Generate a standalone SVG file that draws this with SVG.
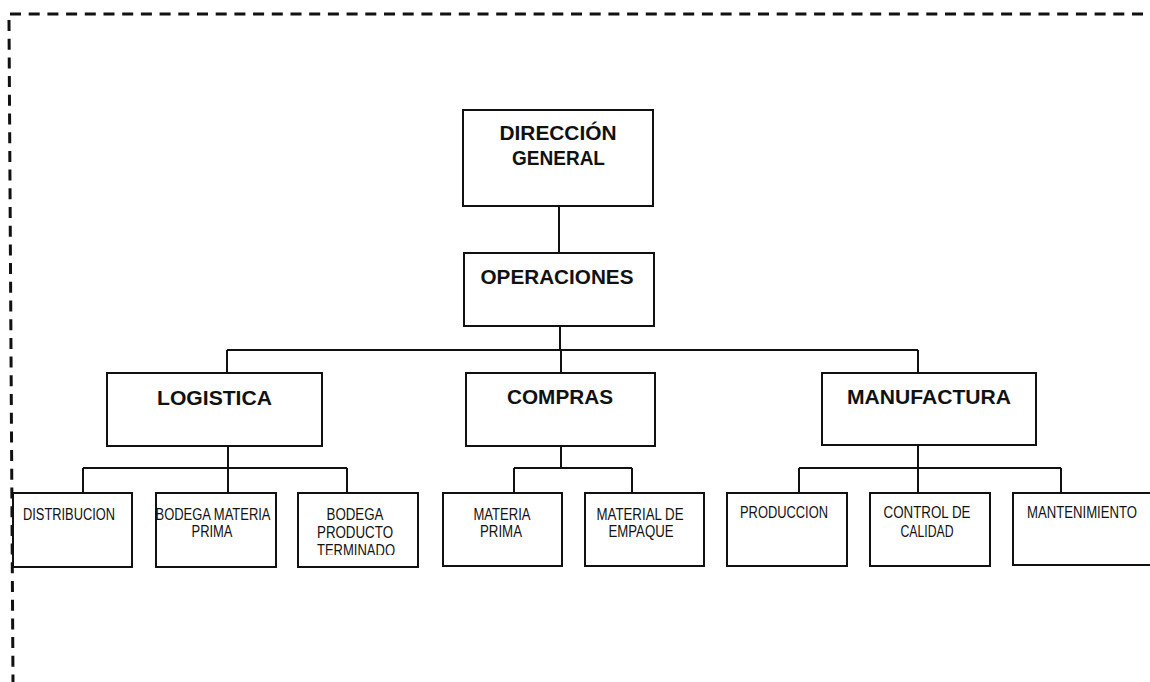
<svg xmlns="http://www.w3.org/2000/svg" width="1150" height="682" viewBox="0 0 1150 682">
<style>
.box{fill:#fff;stroke:#111;stroke-width:2}
.conn line{stroke:#111;stroke-width:2;fill:none}
.border{stroke:#111;stroke-width:3;fill:none;stroke-dasharray:11 7.7}
.b{font-family:"Liberation Sans",Arial,sans-serif;font-weight:bold;font-size:21px;fill:#111;text-anchor:middle}
.s{font-family:"Liberation Sans",Arial,sans-serif;font-size:16px;fill:#111;text-anchor:middle}
</style>
<defs>
<clipPath id="cutPT"><rect x="290" y="480" width="140" height="75"/></clipPath>
</defs>
<rect width="1150" height="682" fill="#fff"/>
<g id="border">
<line class="border" x1="10" y1="14" x2="1150" y2="14"/>
<line class="border" x1="9" y1="20" x2="13" y2="682"/>
</g>
<g id="connectors" class="conn">
<line x1="559" y1="206" x2="559" y2="253"/>
<line x1="560" y1="326" x2="560" y2="350"/>
<line x1="227" y1="350" x2="918" y2="350"/>
<line x1="227" y1="350" x2="227" y2="373"/>
<line x1="561" y1="350" x2="561" y2="373"/>
<line x1="918" y1="350" x2="918" y2="373"/>
<line x1="228" y1="446" x2="228" y2="468"/>
<line x1="83" y1="468" x2="347" y2="468"/>
<line x1="83" y1="468" x2="83" y2="493"/>
<line x1="228" y1="468" x2="228" y2="493"/>
<line x1="347" y1="468" x2="347" y2="493"/>
<line x1="561" y1="446" x2="561" y2="468"/>
<line x1="514" y1="468" x2="632" y2="468"/>
<line x1="514" y1="468" x2="514" y2="493"/>
<line x1="632" y1="468" x2="632" y2="493"/>
<line x1="918" y1="445" x2="918" y2="468"/>
<line x1="799" y1="468" x2="1061" y2="468"/>
<line x1="799" y1="468" x2="799" y2="493"/>
<line x1="918" y1="468" x2="918" y2="493"/>
<line x1="1061" y1="468" x2="1061" y2="493"/>
</g>
<g id="direccion">
<rect class="box" x="463" y="110" width="190" height="96"/>
<text class="b" x="558" y="140" textLength="117" lengthAdjust="spacingAndGlyphs">DIRECCIÓN</text>
<text class="b" x="558.5" y="165" textLength="93" lengthAdjust="spacingAndGlyphs">GENERAL</text>
</g>
<g id="operaciones">
<rect class="box" x="464" y="253" width="190" height="73"/>
<text class="b" x="557" y="284" textLength="153" lengthAdjust="spacingAndGlyphs">OPERACIONES</text>
</g>
<g id="logistica">
<rect class="box" x="107" y="373" width="215" height="73"/>
<text class="b" x="214.5" y="405" textLength="115" lengthAdjust="spacingAndGlyphs">LOGISTICA</text>
</g>
<g id="compras">
<rect class="box" x="466" y="373" width="189" height="73"/>
<text class="b" x="560" y="404" textLength="106" lengthAdjust="spacingAndGlyphs">COMPRAS</text>
</g>
<g id="manufactura">
<rect class="box" x="822" y="373" width="214" height="72"/>
<text class="b" x="929" y="404" textLength="164" lengthAdjust="spacingAndGlyphs">MANUFACTURA</text>
</g>
<g id="distribucion">
<rect class="box" x="13" y="493" width="119" height="74"/>
<text class="s" x="69" y="520" textLength="92" lengthAdjust="spacingAndGlyphs">DISTRIBUCION</text>
</g>
<g id="bodega-mp">
<text class="s" x="213" y="520" textLength="115" lengthAdjust="spacingAndGlyphs">BODEGA MATERIA</text>
<text class="s" x="212" y="537" textLength="41" lengthAdjust="spacingAndGlyphs">PRIMA</text>
<rect class="box" x="156" y="493" width="120" height="74" style="fill:none"/>
</g>
<g id="bodega-pt">
<rect class="box" x="298" y="493" width="120" height="74"/>
<text class="s" x="355" y="520" textLength="57" lengthAdjust="spacingAndGlyphs">BODEGA</text>
<text class="s" x="355" y="538" textLength="76" lengthAdjust="spacingAndGlyphs">PRODUCTO</text>
<text class="s" x="356" y="556" textLength="78" lengthAdjust="spacingAndGlyphs" clip-path="url(#cutPT)">TERMINADO</text>
</g>
<g id="materia-prima">
<rect class="box" x="443" y="493" width="119" height="73"/>
<text class="s" x="502" y="520" textLength="57" lengthAdjust="spacingAndGlyphs">MATERIA</text>
<text class="s" x="501" y="537" textLength="42" lengthAdjust="spacingAndGlyphs">PRIMA</text>
</g>
<g id="material-empaque">
<rect class="box" x="585" y="493" width="119" height="73"/>
<text class="s" x="640" y="520" textLength="87" lengthAdjust="spacingAndGlyphs">MATERIAL DE</text>
<text class="s" x="641" y="537" textLength="65" lengthAdjust="spacingAndGlyphs">EMPAQUE</text>
</g>
<g id="produccion">
<rect class="box" x="727" y="493" width="120" height="73"/>
<text class="s" x="784" y="518" textLength="88" lengthAdjust="spacingAndGlyphs">PRODUCCION</text>
</g>
<g id="control-calidad">
<rect class="box" x="870" y="493" width="120" height="73"/>
<text class="s" x="927" y="518" textLength="87" lengthAdjust="spacingAndGlyphs">CONTROL DE</text>
<text class="s" x="927" y="537" textLength="53" lengthAdjust="spacingAndGlyphs">CALIDAD</text>
</g>
<g id="mantenimiento">
<rect class="box" x="1013" y="493" width="140" height="72"/>
<text class="s" x="1082" y="518" textLength="110" lengthAdjust="spacingAndGlyphs">MANTENIMIENTO</text>
</g>
</svg>
